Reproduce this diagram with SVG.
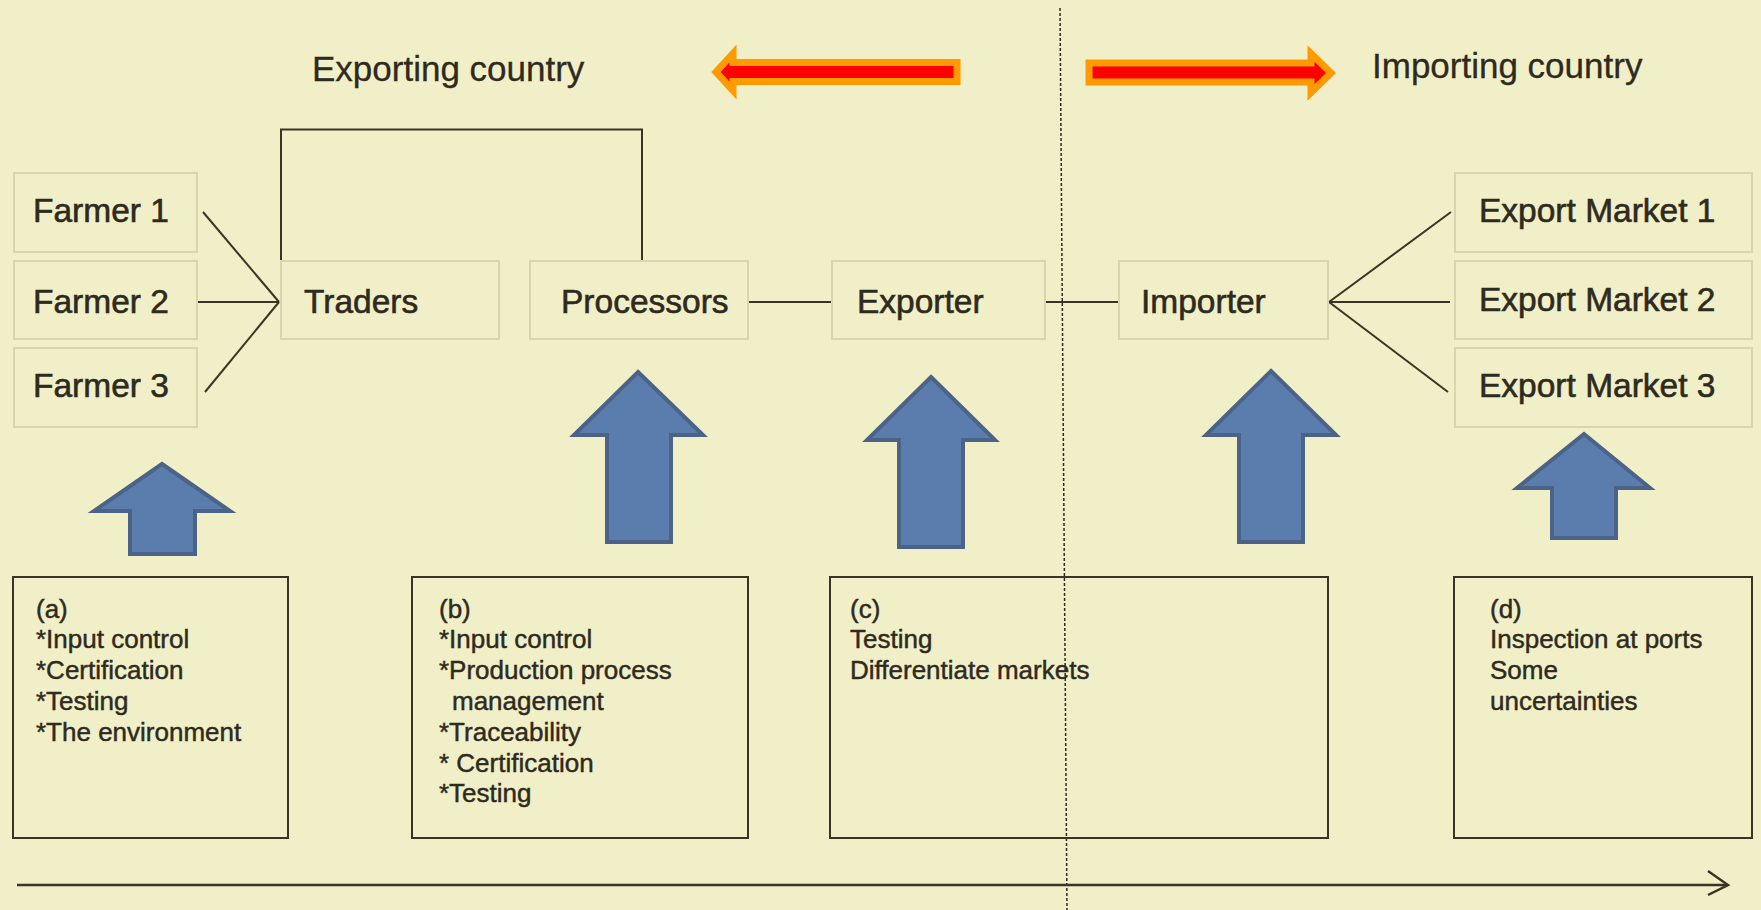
<svg xmlns="http://www.w3.org/2000/svg" width="1761" height="910" viewBox="0 0 1761 910">
  <defs>
    <style>
      .bg { fill: #F1EFC7; }
      .node rect { fill: #F1EFC7; stroke: #DAD5AC; stroke-width: 2; }
      .node text { font-family: "Liberation Sans", Arial, sans-serif; font-size: 33.5px; fill: #2E2A1E; stroke: #2E2A1E; stroke-width: 0.6; }
      .title { font-family: "Liberation Sans", Arial, sans-serif; font-size: 35px; fill: #2E2A1E; stroke: #2E2A1E; stroke-width: 0.3; }
      .conn line, .conn polyline, .conn path { fill: none; stroke: #3A3426; stroke-width: 2; }
      .blue { fill: #5B7DAE; stroke: #4A6386; stroke-width: 4; stroke-linejoin: miter; }
      .red { fill: #FF0000; stroke: #FF9A00; stroke-width: 7; stroke-linejoin: miter; stroke-miterlimit: 10; }
      .box rect { fill: none; stroke: #3A3426; stroke-width: 2; }
      .box text { font-family: "Liberation Sans", Arial, sans-serif; font-size: 26px; fill: #2E2A1E; stroke: #2E2A1E; stroke-width: 0.45; }
    </style>
  </defs>
  <rect class="bg" x="0" y="0" width="1761" height="910"/>

  <!-- divider -->
  <line x1="1060" y1="8" x2="1067" y2="910" stroke="#2E2A1E" stroke-width="1.5" stroke-dasharray="3 2"/>

  <!-- titles and direction arrows -->
  <g id="exporting-country">
    <text class="title" x="312" y="81">Exporting country</text>
    <polygon class="red" points="716,72 733,53.5 733,62.5 957,62.5 957,81.5 733,81.5 733,90.5"/>
  </g>
  <g id="importing-country">
    <text class="title" x="1372" y="78">Importing country</text>
    <polygon class="red" points="1089,63 1311,63 1311,53.5 1331,73 1311,92.5 1311,82 1089,82"/>
  </g>

  <!-- connectors -->
  <g id="connectors" class="conn">
    <line x1="203" y1="212" x2="279" y2="302"/>
    <line x1="198" y1="302" x2="279" y2="302"/>
    <line x1="205" y1="392" x2="279" y2="302"/>
    <polyline points="281,302 281,129.5 642,129.5 642,260"/>
    <line x1="748" y1="302" x2="832" y2="302"/>
    <line x1="1045" y1="302" x2="1118" y2="302"/>
    <line x1="1329" y1="302" x2="1451" y2="212"/>
    <line x1="1329" y1="302" x2="1450" y2="302"/>
    <line x1="1329" y1="302" x2="1448" y2="392"/>
    <!-- bottom axis -->
    <line x1="17" y1="885" x2="1727" y2="885" style="stroke-width:2.5"/>
    <polyline points="1708,871 1728,885 1708,895" style="stroke-width:2.5"/>
  </g>

  <!-- chain nodes -->
  <g id="farmer1" class="node"><rect x="14" y="173" width="183" height="79"/><text x="33" y="222">Farmer 1</text></g>
  <g id="farmer2" class="node"><rect x="14" y="261" width="183" height="78"/><text x="33" y="313">Farmer 2</text></g>
  <g id="farmer3" class="node"><rect x="14" y="348" width="183" height="79"/><text x="33" y="397">Farmer 3</text></g>
  <g id="traders" class="node"><rect x="281" y="261" width="218" height="78"/><text x="304" y="313">Traders</text></g>
  <g id="processors" class="node"><rect x="530" y="261" width="218" height="78"/><text x="561" y="313">Processors</text></g>
  <g id="exporter" class="node"><rect x="832" y="261" width="213" height="78"/><text x="857" y="313">Exporter</text></g>
  <g id="importer" class="node"><rect x="1119" y="261" width="209" height="78"/><text x="1141" y="313">Importer</text></g>
  <g id="export-market-1" class="node"><rect x="1455" y="173" width="297" height="79"/><text x="1479" y="222">Export Market 1</text></g>
  <g id="export-market-2" class="node"><rect x="1455" y="261" width="297" height="78"/><text x="1479" y="311">Export Market 2</text></g>
  <g id="export-market-3" class="node"><rect x="1455" y="348" width="297" height="79"/><text x="1479" y="397">Export Market 3</text></g>

  <!-- blue up arrows -->
  <g id="up-arrow-a"><polygon class="blue" points="162,464 230,511 195,511 195,554 130,554 130,511 94,511"/></g>
  <g id="up-arrow-b"><polygon class="blue" points="638,372 703,435 671,435 671,542 607,542 607,435 574,435"/></g>
  <g id="up-arrow-c"><polygon class="blue" points="931,377 995,440 963,440 963,547 899,547 899,440 867,440"/></g>
  <g id="up-arrow-importer"><polygon class="blue" points="1271,371 1336,435 1303,435 1303,542 1239,542 1239,435 1206,435"/></g>
  <g id="up-arrow-d"><polygon class="blue" points="1584,434 1650,488 1616,488 1616,538 1552,538 1552,488 1517,488"/></g>

  <!-- description boxes -->
  <g id="box-a" class="box">
    <rect x="13" y="577" width="275" height="261"/>
    <text x="36" y="618">(a)</text>
    <text x="36" y="648">*Input control</text>
    <text x="36" y="679">*Certification</text>
    <text x="36" y="710">*Testing</text>
    <text x="36" y="741">*The environment</text>
  </g>
  <g id="box-b" class="box">
    <rect x="412" y="577" width="336" height="261"/>
    <text x="439" y="618">(b)</text>
    <text x="439" y="648">*Input control</text>
    <text x="439" y="679">*Production process</text>
    <text x="452" y="710">management</text>
    <text x="439" y="741">*Traceability</text>
    <text x="439" y="772">* Certification</text>
    <text x="439" y="802">*Testing</text>
  </g>
  <g id="box-c" class="box">
    <rect x="830" y="577" width="498" height="261"/>
    <text x="850" y="618">(c)</text>
    <text x="850" y="648">Testing</text>
    <text x="850" y="679">Differentiate markets</text>
  </g>
  <g id="box-d" class="box">
    <rect x="1454" y="577" width="298" height="261"/>
    <text x="1490" y="618">(d)</text>
    <text x="1490" y="648">Inspection at ports</text>
    <text x="1490" y="679">Some</text>
    <text x="1490" y="710">uncertainties</text>
  </g>
</svg>
